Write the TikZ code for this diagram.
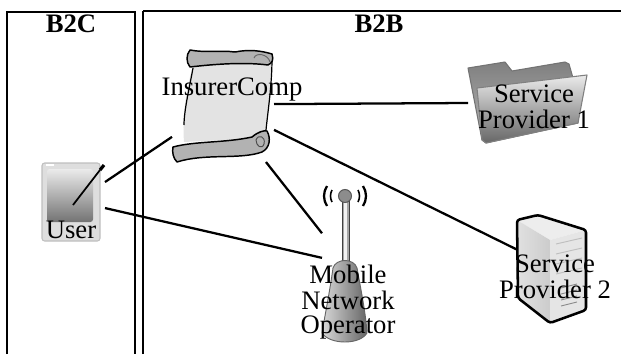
\documentclass[tikz,border=0pt]{standalone}
\usepackage{fontspec}
\setmainfont{Liberation Serif}
\usepackage{tikz}

\tikzset{
  iconbox/.style={inner sep=0pt,outer sep=0pt},
  caption/.style={inner sep=0pt,outer sep=0pt,align=center,font=\fontsize{20}{18}\selectfont},
  heading/.style={inner sep=0pt,outer sep=0pt,anchor=base,font=\fontsize{20}{18}\selectfont\bfseries},
  link/.style={line width=1.7pt},
  outline/.style={draw=black,line width=1.1pt,line join=round}
}

\begin{document}
\begin{tikzpicture}[x=.75pt,y=-.75pt]
\useasboundingbox (0,0) rectangle (621,354);

\draw[line width=1.9pt] (7,354) -- (7,12) -- (135,12) -- (135,354);
\draw[line width=1.9pt] (143,11) -- (621,11);
\draw[line width=1.1pt] (143,354) -- (143,11);

\node[iconbox,minimum width=47.25pt,minimum height=59.25pt] (user) at (73.5,202.5) {};
\node[iconbox,minimum width=76.5pt,minimum height=85.5pt] (insurer) at (223,105) {};
\node[iconbox,minimum width=90pt,minimum height=61.5pt] (provider1) at (528,103) {};
\node[iconbox,minimum width=52.5pt,minimum height=81pt] (provider2) at (552,269) {};
\node[iconbox,minimum width=37.5pt,minimum height=124.5pt] (operator) at (347,269) {};

% user
\draw[draw=black!25,fill=black!13,line width=.8pt,rounded corners=2pt] (42,163) rectangle (100,241);
\shade[top color=black!8,bottom color=black!55,rounded corners=2pt] (47,169) rectangle (93,222);
\fill[white] (46,164) rectangle (54,166);
\draw[line width=1.3pt] (73,205) -- (100,170);
\draw[line width=2.4pt] (100,170) -- (104,165);

% scroll
\fill[black!11] (194,62) -- (272,58) .. controls (270,90) and (268,115) .. (266,138) -- (184,142) .. controls (182,115) and (186,90) .. (194,62) -- cycle;
\draw[line width=.9pt] (193,68) .. controls (190,85) and (184,110) .. (184,125);
\draw[line width=.9pt] (272,58) .. controls (272,85) and (268,110) .. (266,130);
\draw[outline,fill=black!30] (190,50) .. controls (205,53) and (220,50) .. (235,52) .. controls (250,49) and (262,51) .. (272,54) .. controls (274,60) and (272,63) .. (268,65) .. controls (245,62) and (215,64) .. (190,67) .. controls (186,62) and (186,55) .. (190,50) -- cycle;
\draw[black!60,line width=.7pt] (254,58) .. controls (256,52) and (268,54) .. (270,62);
\draw[outline,fill=black!30] (173,147) .. controls (195,141) and (225,143) .. (252,137) .. controls (258,132) and (264,130) .. (267,131) .. controls (271,138) and (270,148) .. (262,152) .. controls (240,160) and (205,153) .. (177,162) .. controls (173,158) and (172,152) .. (173,147) -- cycle;
\draw[black!70,line width=.7pt] (256,140) .. controls (258,134) and (266,136) .. (264,144) .. controls (262,150) and (256,146) .. (256,140);

% folder
\shade[draw=black!55,line width=.8pt,top color=black!50,bottom color=black!28,line join=round] (468,68) -- (505,62) -- (512,71) -- (565,62) -- (569,64) -- (573,78) -- (578,123) -- (486,143) -- (482,140) -- cycle;
\shade[draw=black!50,line width=.8pt,top color=black!8,bottom color=black!60,line join=round] (477,88) -- (587,75) -- (578,123) -- (486,143) -- (482,140) -- cycle;

% server
\fill[black!7] (517,220) -- (538,215) -- (586,230) -- (550,240) -- cycle;
\shade[left color=black!12,right color=black!20] (517,220) -- (550,240) -- (550,323) -- (518,298) -- cycle;
\fill[black!10] (550,240) -- (586,230) -- (586,310) -- (550,323) -- cycle;
\foreach \ypos in {244,254,264,274}
  \draw[black!25,line width=.7pt] (556,\ypos) -- (582,\ypos-6);
\foreach \ypos in {288,294,300,306}
  \draw[black!45,line width=.7pt] (561,\ypos) -- (577,\ypos-4);
\draw[draw=black,line width=1.9pt,rounded corners=2pt] (517,220) -- (538,215) -- (586,230) -- (586,310) -- (550,323) -- (518,298) -- cycle;

% tower
\fill[black!35] (342,198) rectangle (349,268);
\fill[black!5] (344,198) rectangle (347,268);
\draw[line width=.7pt,black!75] (342,198) -- (342,268) (349,198) -- (349,268);
\shade[draw=black!60,left color=black!15,right color=black!60,line width=.7pt] (333,268) .. controls (336,258) and (354,258) .. (357,268) .. controls (361,290) and (366,315) .. (367,333) .. controls (360,345) and (330,345) .. (322,333) .. controls (325,315) and (330,290) .. (333,268) -- cycle;
\draw[black!65,fill=black!45,line width=.8pt] (345,196) circle (6.5);
\draw[line width=1.7pt] (327,186) .. controls (323,192) and (323,200) .. (327,206);
\draw[line width=1.2pt] (332,190) .. controls (330,194) and (330,198) .. (332,202);
\draw[line width=1.7pt] (363,186) .. controls (367,192) and (367,200) .. (363,206);
\draw[line width=1.2pt] (358,190) .. controls (360,194) and (360,198) .. (358,202);

\draw[link] (user.33) -- (insurer.212);
\draw[link] (user.-10) -- (operator.156);
\draw[link] (insurer.1) -- (provider1.west);
\draw[link] (insurer.-26) -- (provider2.151.5);
\draw[link] (insurer.-53) -- (operator.125.5);

\node[heading] (b2c) at (71,32) {B2C};
\node[heading] (b2b) at (379,32) {B2B};
\node[caption,anchor=base] (userlabel) at (71,238) {User};
\node[caption,anchor=base] (insurerlabel) at (232,95) {InsurerComp};
\node[caption] (provider1label) at (534,107) {Service\hspace{6pt}\\[1.5pt]Provider 1};
\node[caption] (provider2label) at (555,277) {Service\hspace{21pt}\\[1.5pt]Provider 2};
\node[caption] (operatorlabel) at (348,302) {Mobile\hspace{8pt}\\[1.5pt]Network\\[.5pt]Operator};
\end{tikzpicture}
\end{document}
